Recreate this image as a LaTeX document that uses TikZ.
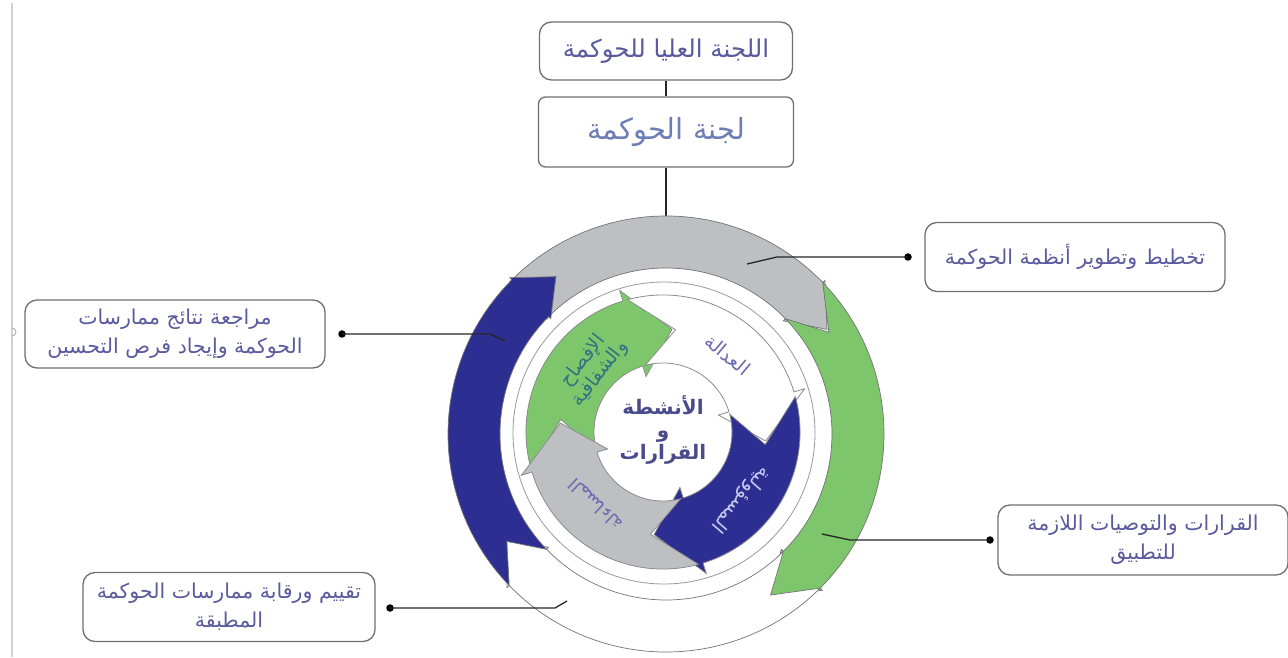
\documentclass[tikz,border=0pt]{standalone}
\usepackage{fontspec}
\TeXXeTstate=1
\newfontfamily\arabicfont[Script=Arabic]{DejaVu Sans}
\usetikzlibrary{calc}
\definecolor{ogray}{HTML}{BEBFC3}
\definecolor{oblue}{HTML}{2C2F91}
\definecolor{ogreen}{HTML}{7EC66C}
\definecolor{boxtxt}{HTML}{5A5B9E}
\definecolor{boxtxttwo}{HTML}{6F7DB5}
\definecolor{ctxt}{HTML}{4A4B8C}
\definecolor{boxline}{HTML}{707070}
\definecolor{gtxt}{HTML}{2F7382}
\definecolor{ltxt}{HTML}{C9CAF2}
\definecolor{ptxt}{HTML}{6B6BAF}
% #1 style, #2 inner r, #3 outer r, #4 tail angle, #5 head base angle, #6 tip angle, #7 head extra width, #8 notch depth
\newcommand{\cycarrow}[8]{%
  \path[#1] (#4:#3) arc[start angle=#4, end angle=#5, radius=#3]
    -- (#5:{#3+#7}) -- (#6:{(#2+#3)/2}) -- (#5:{#2-#7}) -- (#5:#2)
    arc[start angle=#5, end angle=#4, radius=#2]
    -- ({#4-#8}:{(#2+#3)/2}) -- cycle;}
\tikzset{
  labelbox/.style={draw=boxline, line width=1.3pt, rounded corners=12pt, fill=white,
    text=boxtxt, font=\arabicfont\fontsize{20.5}{29}\selectfont, align=center, inner sep=4pt},
  leader/.style={line width=1.3pt, draw=black!85},
  dotmark/.style={circle, fill=black, inner sep=0pt, minimum size=7.5pt},
  outerarrow/.style={draw=black!55, line width=0.7pt},
  innerarrow/.style={draw=black!45, line width=0.8pt},
  arclabel/.style={font=\arabicfont\fontsize{19}{21}\selectfont, align=center, inner sep=0pt}
}
\begin{document}
\begin{tikzpicture}[x=1pt,y=1pt]
\useasboundingbox (0,0) rectangle (1288,657);
\fill[white] (0,0) rectangle (1288,657);
% left edge artefact
\draw[black!18, line width=2pt] (12,654) -- (12,0);
\draw[black!35, line width=0.8pt] (12,329) arc[start angle=90, end angle=-90, radius=4];

% top boxes
\node[labelbox, minimum width=253pt, minimum height=58pt, font=\arabicfont\fontsize{24.5}{29}\selectfont] (high) at (666,606) {\beginR اللجنة العليا للحوكمة\endR};
\node[labelbox, minimum width=255pt, minimum height=70pt, rounded corners=7pt, text=boxtxttwo,
      font=\arabicfont\fontsize{29}{32}\selectfont] (gov) at (666,525) {\beginR لجنة الحوكمة\endR};
\coordinate (ctop) at (666,439);
\draw[leader] (high) -- (gov);
\draw[leader] (gov) -- (ctop);

% outer ring of arrows
\begin{scope}[shift={(666,223)}]
\cycarrow{fill=ogray, outerarrow}{166}{218}{136}{44}{33}{3}{11}
\cycarrow{fill=ogreen, outerarrow}{166}{218}{44}{-45}{-57}{3}{12}
\cycarrow{fill=white, outerarrow}{166}{218}{-45}{-136}{-146}{3}{12}
\cycarrow{fill=oblue, outerarrow}{166}{218}{-136}{-225}{-235}{3}{10}
\end{scope}

% inner disk
\draw[black!40, line width=0.8pt, fill=white] (664,224) circle[radius=151];

% inner arrows
\begin{scope}[shift={(663,225)}]
\cycarrow{fill=ogreen, innerarrow}{69}{137}{195}{107}{85}{11}{22}
\cycarrow{fill=white, innerarrow}{69}{137}{105}{17}{-5}{11}{22}
\cycarrow{fill=oblue, innerarrow}{69}{137}{15}{-73}{-95}{11}{22}
\cycarrow{fill=ogray, innerarrow}{69}{137}{-75}{-163}{-185}{11}{22}
\node[arclabel, rotate=52, text=gtxt] (lgreen) at (138:96) {\beginR الإفصاح\endR\\\beginR والشفافية\endR};
\node[arclabel, rotate=-40, text=ptxt] (lwhite) at (50:101) {\beginR العدالة\endR};
\node[arclabel, rotate=-131, text=ltxt] (lblue) at (-41:103) {\beginR المسؤولية\endR};
\node[arclabel, rotate=137, text=ptxt, font=\arabicfont\fontsize{18}{21}\selectfont] (lgray) at (-133:99) {\beginR المساءلة\endR};
\node[font=\arabicfont\bfseries\fontsize{20}{22.5}\selectfont, text=ctxt, align=center] (centre) at (0,2)
  {\beginR الأنشطة\endR\\\beginR و\endR\\\beginR القرارات\endR};
\end{scope}

% side boxes
\node[labelbox, minimum width=300pt, minimum height=69pt] (plan) at (1075,400) {\beginR تخطيط وتطوير أنظمة الحوكمة\endR};
\node[labelbox, minimum width=300pt, minimum height=68pt] (review) at (175,323) {\beginR مراجعة نتائج ممارسات\endR\\\beginR الحوكمة وإيجاد فرص التحسين\endR};
\node[labelbox, minimum width=290pt, minimum height=70pt] (decide) at (1143,117) {\beginR القرارات والتوصيات اللازمة\endR\\\beginR للتطبيق\endR};
\node[labelbox, minimum width=292pt, minimum height=69pt] (assess) at (229,50) {\beginR تقييم ورقابة ممارسات الحوكمة\endR\\\beginR المطبقة\endR};

% leaders
\node[dotmark] (d1) at (908,400) {};
\coordinate (e1a) at (777,400); \coordinate (e1) at (747,393);
\draw[leader] (d1.center) -- (e1a) -- (e1);
\node[dotmark] (d2) at (342,323) {};
\coordinate (e2a) at (490,323); \coordinate (e2) at (505,316);
\draw[leader] (d2.center) -- (e2a) -- (e2);
\node[dotmark] (d3) at (990,117) {};
\coordinate (e3a) at (850,117); \coordinate (e3) at (822,123);
\draw[leader] (d3.center) -- (e3a) -- (e3);
\node[dotmark] (d4) at (390,49) {};
\coordinate (e4a) at (555,49); \coordinate (e4) at (567,56);
\draw[leader] (d4.center) -- (e4a) -- (e4);
\end{tikzpicture}
\end{document}
